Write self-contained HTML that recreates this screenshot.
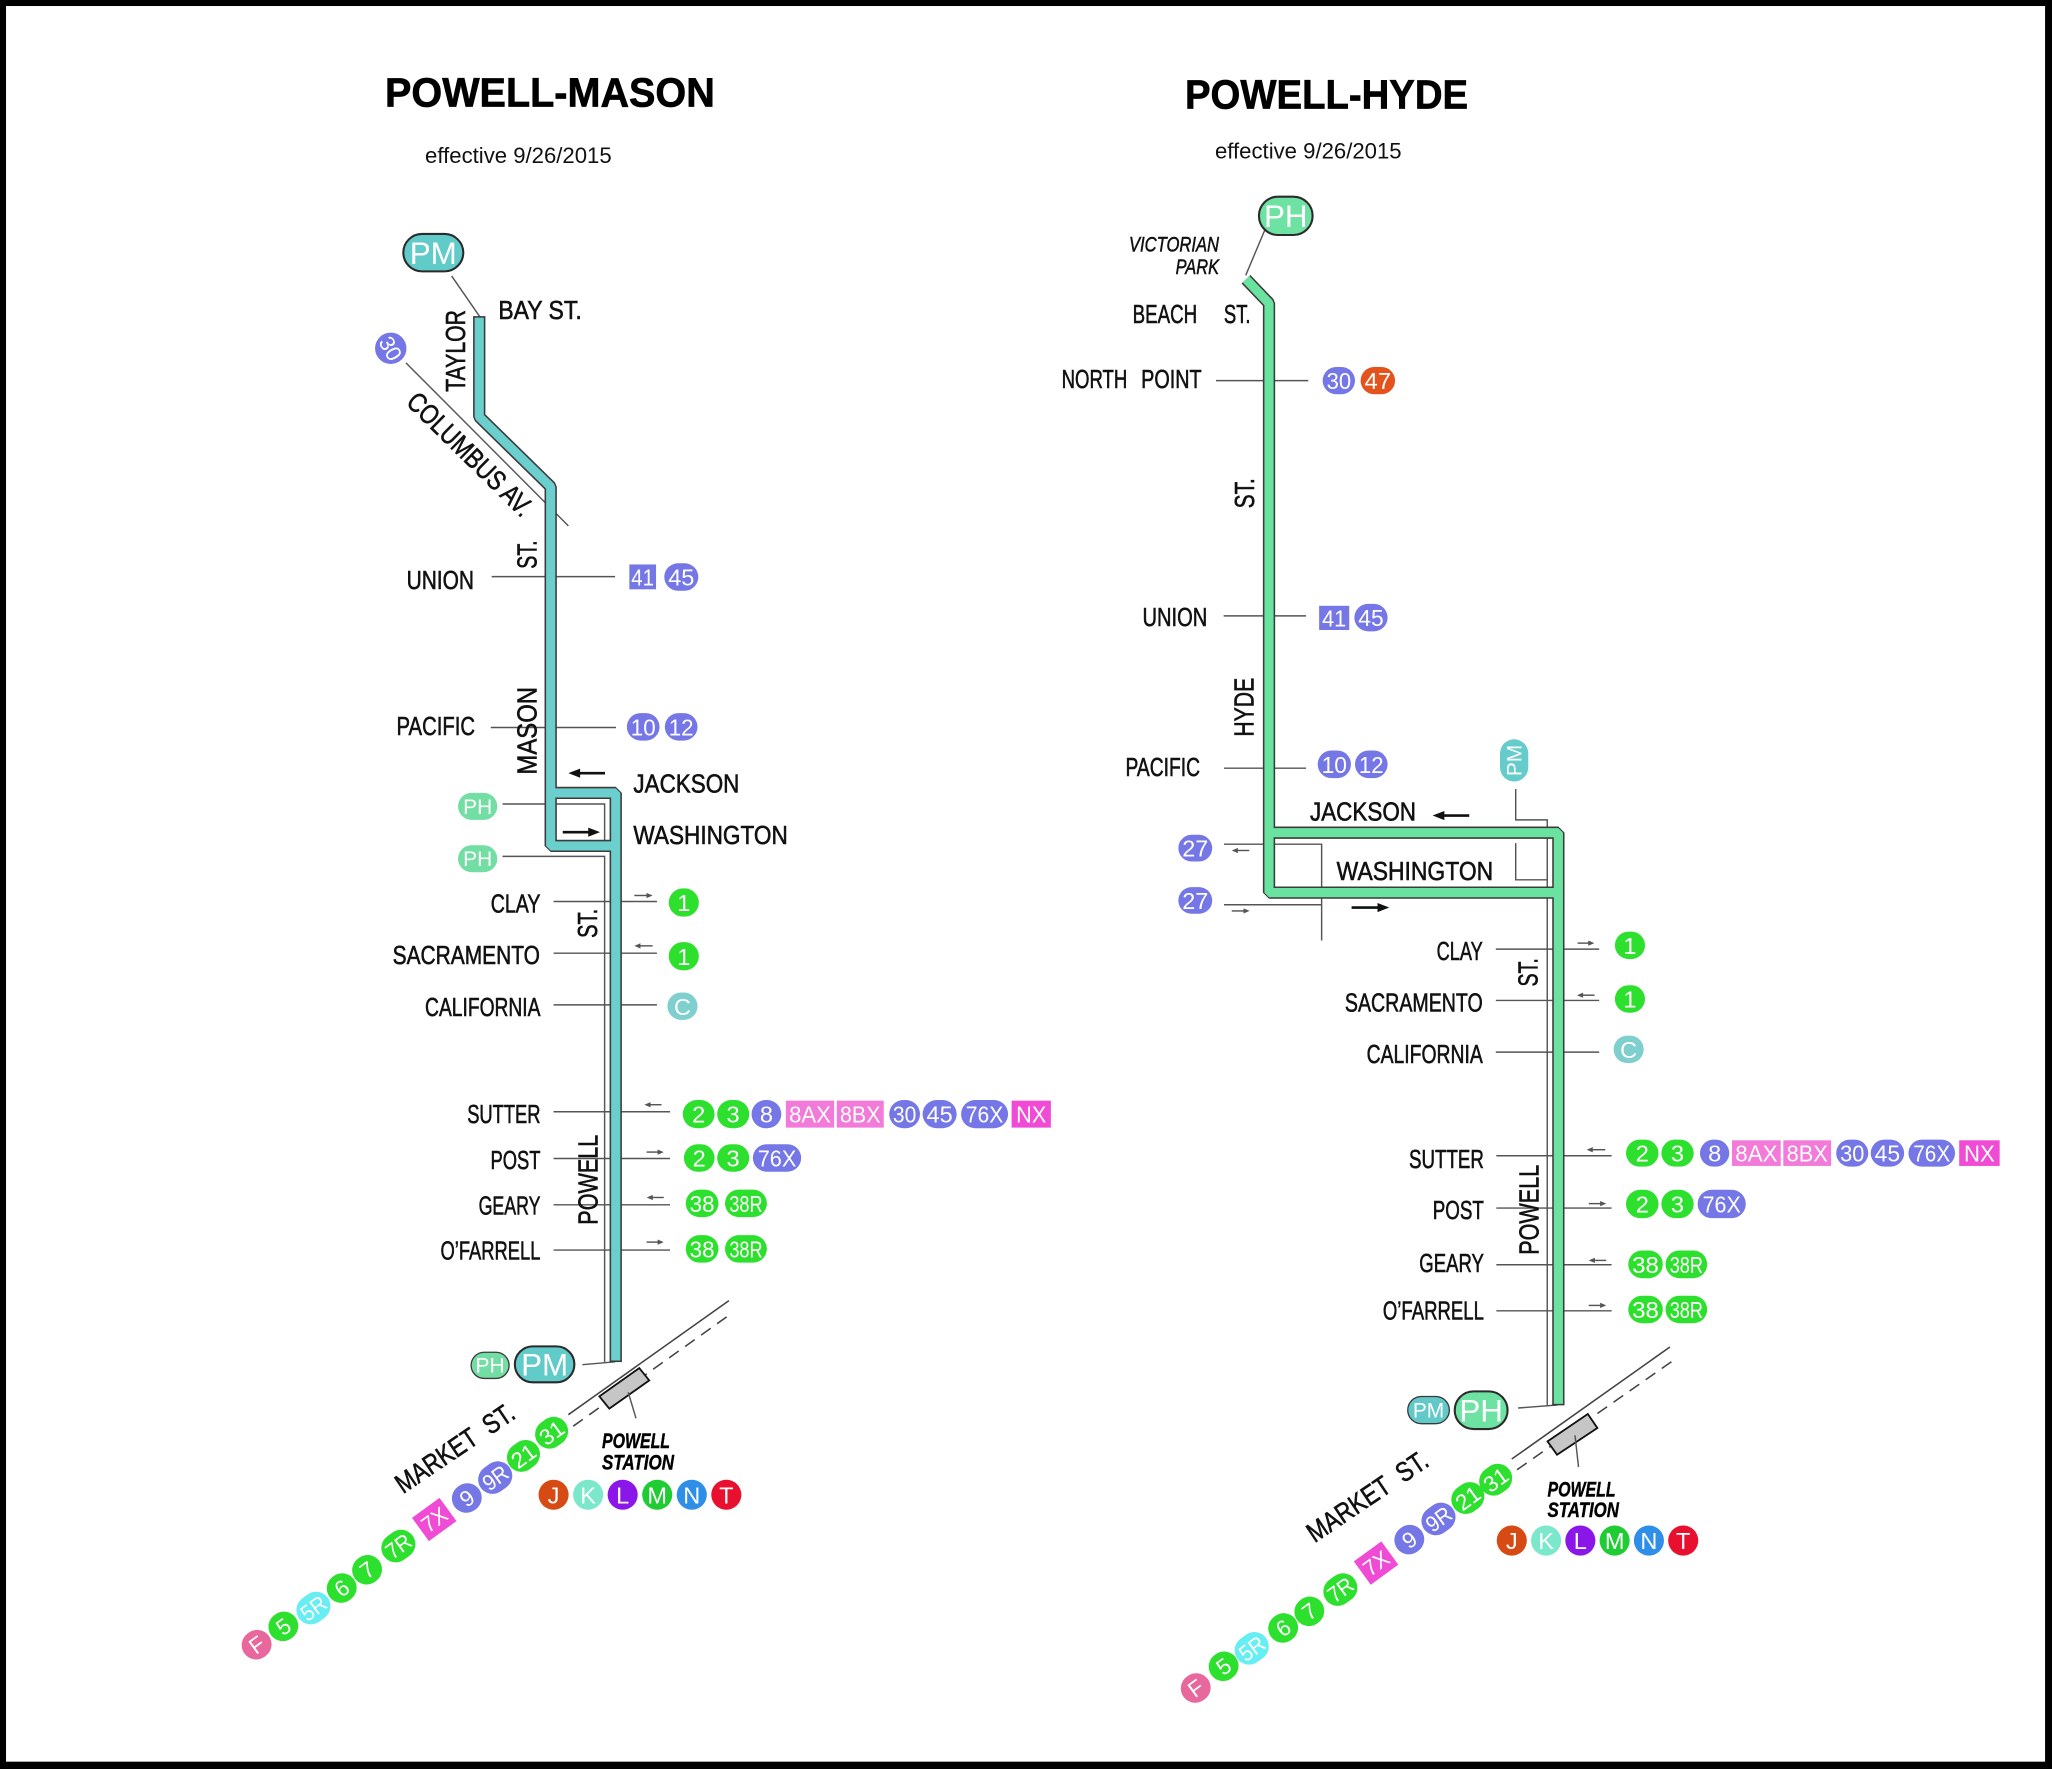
<!DOCTYPE html>
<html><head><meta charset="utf-8"><title>Powell-Mason / Powell-Hyde</title>
<style>
html,body{margin:0;padding:0;background:#000;}
svg{display:block}
.s{font-family:"Liberation Sans Narrow","Liberation Sans",sans-serif;font-size:20px;fill:#111;stroke:#111;stroke-width:0.45}
.r{font-family:"Liberation Sans Narrow","Liberation Sans",sans-serif;font-size:21px;fill:#111;stroke:#111;stroke-width:0.45}
.t{font-family:"Liberation Sans",sans-serif;font-weight:bold;font-size:31px;fill:#000;stroke:#000;stroke-width:0.5}
.e{font-family:"Liberation Sans",sans-serif;font-size:17px;fill:#111}
.b{font-family:"Liberation Sans",sans-serif;font-size:18px;fill:#fff;text-anchor:middle}
.bt{font-family:"Liberation Sans",sans-serif;font-size:18px;fill:#fff}
.bs{font-family:"Liberation Sans",sans-serif;font-size:16.5px;fill:#fff;text-anchor:middle}
.mk{font-family:"Liberation Sans",sans-serif;font-size:17px;fill:#fff;text-anchor:middle}
.mt{font-family:"Liberation Sans",sans-serif;font-size:17px;fill:#fff}
.big{font-family:"Liberation Sans",sans-serif;font-size:24px;fill:#fff;text-anchor:middle}
.sm{font-family:"Liberation Sans",sans-serif;font-size:16px;fill:#fff;text-anchor:middle}
.it{font-family:"Liberation Sans Narrow","Liberation Sans",sans-serif;font-style:italic;font-size:16px;fill:#111;stroke:#111;stroke-width:0.4}
.bi{font-family:"Liberation Sans Narrow","Liberation Sans",sans-serif;font-style:italic;font-weight:bold;font-size:16px;fill:#000;stroke:#000;stroke-width:0.3}
.g{stroke:#555;stroke-width:1.1;fill:none}
.ga{fill:#555}
.ba{stroke:#111;stroke-width:2;fill:none}
</style></head><body>
<svg width="2052" height="1769" viewBox="0 0 1568 1352" preserveAspectRatio="none" xmlns="http://www.w3.org/2000/svg">
<rect x="0" y="0" width="1568" height="1352" fill="#000"/>
<rect x="4.6" y="4.6" width="1558.1" height="1341.8" fill="#fff"/>

<!-- ===== TITLES ===== -->
<text class="t" x="294.2" y="81.3" textLength="252" lengthAdjust="spacingAndGlyphs">POWELL-MASON</text>
<text class="e" x="324.8" y="124.5" textLength="142.6" lengthAdjust="spacingAndGlyphs">effective 9/26/2015</text>
<text class="t" x="905.5" y="82.8" textLength="216.3" lengthAdjust="spacingAndGlyphs">POWELL-HYDE</text>
<text class="e" x="928.4" y="121" textLength="142.6" lengthAdjust="spacingAndGlyphs">effective 9/26/2015</text>

<!-- ===== GRAY LEADER LINES (LEFT) ===== -->
<g class="g">
<path d="M345.1,210.9 L366.8,242.3"/>
<path d="M310.2,277.3 L434.3,401.9"/>
<path d="M375.7,440.7 H470"/>
<path d="M375,556 H470.7"/>
<path d="M384,614.5 H462 V642"/>
<path d="M384,654.5 H462 V1041"/>
<path d="M423,689 H502"/>
<path d="M423,728.5 H502"/>
<path d="M423,768 H502"/>
<path d="M423,849.7 H512"/>
<path d="M423,885.4 H512"/>
<path d="M423,920.8 H512"/>
<path d="M423,955.4 H512"/>
<path d="M445,1043 L470,1040.8"/>
</g>
<path d="M434.3,1081.2 L557,994" stroke="#444" stroke-width="1.2" fill="none"/>
<path d="M438,1090 L558,1004.5" stroke="#444" stroke-width="1.2" fill="none" stroke-dasharray="9 6"/>

<!-- ===== GRAY LEADER LINES (RIGHT) ===== -->
<g class="g">
<path d="M966.6,175.5 L951.9,210.4"/>
<path d="M929.2,290.9 H999.7"/>
<path d="M935,470.7 H998"/>
<path d="M935.3,587.1 H998"/>
<path d="M935.3,645.2 H1009.9 V718.8"/>
<path d="M935.3,691.5 H1009.9"/>
<path d="M1158.2,603 V626.6 H1182.3 V1074"/>
<path d="M1158.2,644.4 V672.4 H1182.3"/>
<path d="M1143,725.4 H1222"/>
<path d="M1143,764.6 H1222"/>
<path d="M1143,804.1 H1222"/>
<path d="M1143.4,883.3 H1231.5"/>
<path d="M1143.4,923.3 H1231.5"/>
<path d="M1143.4,966.6 H1231.5"/>
<path d="M1143.4,1001.8 H1231.5"/>
<path d="M1160,1076.1 L1190,1073.8"/>
</g>
<path d="M1155.2,1115.1 L1276,1029.5" stroke="#444" stroke-width="1.2" fill="none"/>
<path d="M1159.2,1123.3 L1277.5,1040.5" stroke="#444" stroke-width="1.2" fill="none" stroke-dasharray="9 6"/>

<!-- ===== SMALL GRAY ARROWS ===== -->
<g>
<path class="g" d="M484.7,684.4 H496"/><polygon class="ga" points="498.7,684.4 494,682.4 494,686.4"/>
<path class="g" d="M487.5,722.9 H498.7"/><polygon class="ga" points="484.7,722.9 489.4,720.9 489.4,724.9"/>
<path class="g" d="M495.2,844.3 H505.5"/><polygon class="ga" points="492.4,844.3 497.1,842.3 497.1,846.3"/>
<path class="g" d="M494.1,880.5 H504.5"/><polygon class="ga" points="507.2,880.5 502.5,878.5 502.5,882.5"/>
<path class="g" d="M496.9,915.2 H507.2"/><polygon class="ga" points="494.1,915.2 498.8,913.2 498.8,917.2"/>
<path class="g" d="M494.1,949.3 H504.5"/><polygon class="ga" points="507.2,949.3 502.5,947.3 502.5,951.3"/>
<path class="g" d="M1205.5,720.8 H1215.6"/><polygon class="ga" points="1218.3,720.8 1213.6,718.8 1213.6,722.8"/>
<path class="g" d="M1207.8,760.6 H1218.5"/><polygon class="ga" points="1205,760.6 1209.7,758.6 1209.7,762.6"/>
<path class="g" d="M1215.2,878.7 H1226.6"/><polygon class="ga" points="1212.4,878.7 1217.1,876.7 1217.1,880.7"/>
<path class="g" d="M1214,919.9 H1224.7"/><polygon class="ga" points="1227.4,919.9 1222.7,917.9 1222.7,921.9"/>
<path class="g" d="M1216.8,963.3 H1227.4"/><polygon class="ga" points="1214,963.3 1218.7,961.3 1218.7,965.3"/>
<path class="g" d="M1214,997.7 H1224.7"/><polygon class="ga" points="1227.4,997.7 1222.7,995.7 1222.7,999.7"/>
<path class="g" d="M944,650 H954.6"/><polygon class="ga" points="941.2,650 945.9,648 945.9,652"/>
<path class="g" d="M941.2,696.2 H952.2"/><polygon class="ga" points="954.9,696.2 950.2,694.2 950.2,698.2"/>
</g>

<!-- ===== BANDS ===== -->
<g fill="none" stroke-linejoin="bevel">
<path d="M366.2,242.3 V318.6 L420.8,372 V606 H470.5 V1040.5" stroke="#3c3c3c" stroke-width="9.4"/>
<path d="M420.8,606 V646.5 H470.5" stroke="#3c3c3c" stroke-width="9.4"/>
<path d="M366.2,242.3 V318.6 L420.8,372 V606 H470.5 V1040.5" stroke="#6acfcd" stroke-width="7"/>
<path d="M420.8,606 V646.5 H470.5" stroke="#6acfcd" stroke-width="7"/>

<path d="M952.1,213.4 L969.7,231.8 V636.4 H1190.8 V1073.6" stroke="#3c3c3c" stroke-width="9.4"/>
<path d="M969.7,636.4 V682.2 H1190.8" stroke="#3c3c3c" stroke-width="9.4"/>
<path d="M952.1,213.4 L969.7,231.8 V636.4 H1190.8 V1073.6" stroke="#6ae3a0" stroke-width="7"/>
<path d="M969.7,636.4 V682.2 H1190.8" stroke="#6ae3a0" stroke-width="7"/>
</g>
<rect x="361.5" y="241.6" width="9.4" height="1.2" fill="#3c3c3c"/>
<rect x="465.8" y="1039.8" width="9.4" height="1.2" fill="#3c3c3c"/>
<rect x="1186.1" y="1072.9" width="9.4" height="1.2" fill="#3c3c3c"/>

<!-- ===== BLACK DIRECTION ARROWS ===== -->
<path class="ba" d="M441,590.9 H462.3"/><polygon fill="#111" points="434.3,590.9 443.3,587.4 443.3,594.4"/>
<path class="ba" d="M430,636 H451.5"/><polygon fill="#111" points="458.5,636 449.5,632.5 449.5,639.5"/>
<path class="ba" d="M1101.7,623.3 H1122.7"/><polygon fill="#111" points="1094.7,623.3 1103.7,619.8 1103.7,626.8"/>
<path class="ba" d="M1032.8,693.6 H1054.6"/><polygon fill="#111" points="1061.6,693.6 1052.6,690.1 1052.6,697.1"/>

<!-- ===== STATIONS ===== -->
<polygon points="458,1067.2 488.5,1045.6 496.1,1055 465.6,1076.6" fill="#c6c6c6" stroke="#111" stroke-width="1.4"/>
<path class="g" d="M480,1064 L486,1084"/>
<polygon points="1182.5,1101.6 1213.3,1080.7 1220.6,1091.4 1189.8,1111.8" fill="#c6c6c6" stroke="#111" stroke-width="1.4"/>
<path class="g" d="M1203.5,1097 L1206.2,1121.2"/>

<!-- ===== LEFT STREET LABELS ===== -->
<g class="s">
<text x="380.8" y="243.8" textLength="63.7" lengthAdjust="spacingAndGlyphs">BAY ST.</text>
<text x="310.7" y="450.3" textLength="51.5" lengthAdjust="spacingAndGlyphs">UNION</text>
<text x="303" y="561.6" textLength="60" lengthAdjust="spacingAndGlyphs">PACIFIC</text>
<text x="484" y="605.7" textLength="81" lengthAdjust="spacingAndGlyphs">JACKSON</text>
<text x="484" y="645" textLength="118" lengthAdjust="spacingAndGlyphs">WASHINGTON</text>
<text x="375" y="697.4" textLength="38" lengthAdjust="spacingAndGlyphs">CLAY</text>
<text x="300" y="736.6" textLength="112.6" lengthAdjust="spacingAndGlyphs">SACRAMENTO</text>
<text x="324.8" y="776.4" textLength="88.2" lengthAdjust="spacingAndGlyphs">CALIFORNIA</text>
<text x="357" y="858.3" textLength="56" lengthAdjust="spacingAndGlyphs">SUTTER</text>
<text x="374.8" y="893.3" textLength="38.2" lengthAdjust="spacingAndGlyphs">POST</text>
<text x="365.7" y="928.4" textLength="47.3" lengthAdjust="spacingAndGlyphs">GEARY</text>
<text x="336.6" y="962.8" textLength="76.4" lengthAdjust="spacingAndGlyphs">O’FARRELL</text>
</g>
<g class="r">
<text transform="translate(355.3,299.5) rotate(-90)" textLength="62.6" lengthAdjust="spacingAndGlyphs">TAYLOR</text>
<text transform="translate(410,434.7) rotate(-90)" textLength="21.7" lengthAdjust="spacingAndGlyphs">ST.</text>
<text transform="translate(410,592) rotate(-90)" textLength="67" lengthAdjust="spacingAndGlyphs">MASON</text>
<text transform="translate(456,716.8) rotate(-90)" textLength="22.2" lengthAdjust="spacingAndGlyphs">ST.</text>
<text transform="translate(456.5,936) rotate(-90)" textLength="68.7" lengthAdjust="spacingAndGlyphs">POWELL</text>
<text transform="translate(309.5,308.5) rotate(44.5)" textLength="125" lengthAdjust="spacingAndGlyphs">COLUMBUS AV.</text>
<text transform="translate(308,1142) rotate(-34)" textLength="105" lengthAdjust="spacingAndGlyphs">MARKET&#160; ST.</text>
</g>
<text class="bi" x="460" y="1106.6" textLength="52" lengthAdjust="spacingAndGlyphs">POWELL</text>
<text class="bi" x="460" y="1123.2" textLength="55" lengthAdjust="spacingAndGlyphs">STATION</text>

<!-- ===== RIGHT STREET LABELS ===== -->
<g class="s">
<text x="865.5" y="247" textLength="49.3" lengthAdjust="spacingAndGlyphs">BEACH</text>
<text x="935.2" y="247" textLength="20.4" lengthAdjust="spacingAndGlyphs">ST.</text>
<text x="811.2" y="296.7" textLength="50.2" lengthAdjust="spacingAndGlyphs">NORTH</text>
<text x="872" y="296.7" textLength="46.2" lengthAdjust="spacingAndGlyphs">POINT</text>
<text x="873" y="478.3" textLength="49.5" lengthAdjust="spacingAndGlyphs">UNION</text>
<text x="860" y="593" textLength="57" lengthAdjust="spacingAndGlyphs">PACIFIC</text>
<text x="1001" y="627.1" textLength="81" lengthAdjust="spacingAndGlyphs">JACKSON</text>
<text x="1021.4" y="672.4" textLength="119.6" lengthAdjust="spacingAndGlyphs">WASHINGTON</text>
<text x="1097.8" y="733.6" textLength="35.2" lengthAdjust="spacingAndGlyphs">CLAY</text>
<text x="1027.7" y="773" textLength="105.3" lengthAdjust="spacingAndGlyphs">SACRAMENTO</text>
<text x="1044.3" y="812.5" textLength="88.7" lengthAdjust="spacingAndGlyphs">CALIFORNIA</text>
<text x="1076.7" y="892.8" textLength="57.2" lengthAdjust="spacingAndGlyphs">SUTTER</text>
<text x="1094.8" y="931.7" textLength="39.1" lengthAdjust="spacingAndGlyphs">POST</text>
<text x="1084.5" y="972.2" textLength="49.4" lengthAdjust="spacingAndGlyphs">GEARY</text>
<text x="1056.7" y="1008.6" textLength="77.2" lengthAdjust="spacingAndGlyphs">O’FARRELL</text>
</g>
<g class="r">
<text transform="translate(958.2,388.4) rotate(-90)" textLength="22.9" lengthAdjust="spacingAndGlyphs">ST.</text>
<text transform="translate(958,563) rotate(-90)" textLength="45" lengthAdjust="spacingAndGlyphs">HYDE</text>
<text transform="translate(1174.7,754) rotate(-90)" textLength="21.7" lengthAdjust="spacingAndGlyphs">ST.</text>
<text transform="translate(1175.8,959) rotate(-90)" textLength="68.8" lengthAdjust="spacingAndGlyphs">POWELL</text>
<text transform="translate(1004.5,1179.5) rotate(-34)" textLength="107" lengthAdjust="spacingAndGlyphs">MARKET&#160; ST.</text>
</g>
<text class="it" x="862.7" y="192.3" textLength="68.8" lengthAdjust="spacingAndGlyphs">VICTORIAN</text>
<text class="it" x="898.3" y="209.4" textLength="33.2" lengthAdjust="spacingAndGlyphs">PARK</text>
<text class="bi" x="1182.5" y="1143.7" textLength="52" lengthAdjust="spacingAndGlyphs">POWELL</text>
<text class="bi" x="1182.5" y="1159.4" textLength="54.6" lengthAdjust="spacingAndGlyphs">STATION</text>

<!-- ===== LINE BADGES (PM / PH) ===== -->
<rect x="308.2" y="178.8" width="45.8" height="28.6" rx="14.3" fill="#61cbc9" stroke="#2b2b2b" stroke-width="1.6"/>
<text class="big" x="331.1" y="201.8">PM</text>
<rect x="350" y="606" width="30" height="20.6" rx="10.3" fill="#72dea4"/>
<text class="sm" x="365" y="622">PH</text>
<rect x="350" y="646" width="30" height="20.6" rx="10.3" fill="#72dea4"/>
<text class="sm" x="365" y="662">PH</text>
<rect x="360" y="1033.5" width="29" height="20" rx="10" fill="#72dea4" stroke="#3a3a3a" stroke-width="1"/>
<text class="sm" x="374.5" y="1049.1">PH</text>
<rect x="393.4" y="1029" width="45.5" height="27.5" rx="13.75" fill="#61cbc9" stroke="#2b2b2b" stroke-width="1.6"/>
<text class="big" x="416.2" y="1051.4">PM</text>

<rect x="962" y="150.3" width="41" height="29.3" rx="14.6" fill="#6de2a2" stroke="#2b2b2b" stroke-width="1.6"/>
<text class="big" x="982.5" y="173.6">PH</text>
<rect x="1146.2" y="565" width="21.6" height="32.3" rx="10.8" fill="#66cccb"/>
<text class="sm" transform="translate(1162.8,581.2) rotate(-90)" x="0" y="0">PM</text>
<rect x="1075.7" y="1067.3" width="31.8" height="20.8" rx="10.4" fill="#61c9c8" stroke="#3a3a3a" stroke-width="1"/>
<text class="sm" x="1091.6" y="1083.3">PM</text>
<rect x="1111.6" y="1063.4" width="40.4" height="28.8" rx="14.4" fill="#6de2a2" stroke="#2b2b2b" stroke-width="1.6"/>
<text class="big" x="1131.8" y="1086.5">PH</text>

<!-- ===== LEFT BUS BADGES ===== -->
<circle cx="298.6" cy="266.2" r="12" fill="#7577e6"/>
<text class="bs" transform="translate(298.6,266.2) rotate(60)" x="0" y="6">30</text>

<rect x="480.9" y="431.4" width="20.4" height="19" fill="#7577e6"/><text class="bt" x="482.4" y="447.4" textLength="17.4" lengthAdjust="spacingAndGlyphs">41</text>
<rect x="507.6" y="430.5" width="26" height="21" rx="10.5" fill="#7577e6"/><text class="bt" x="510.6" y="447.4" textLength="20" lengthAdjust="spacingAndGlyphs">45</text>

<rect x="479" y="545" width="25" height="21" rx="10.5" fill="#7577e6"/><text class="bt" x="482" y="562" textLength="19" lengthAdjust="spacingAndGlyphs">10</text>
<rect x="508" y="545" width="25" height="21" rx="10.5" fill="#7577e6"/><text class="bt" x="511" y="562" textLength="19" lengthAdjust="spacingAndGlyphs">12</text>

<rect x="511" y="679" width="23" height="21.6" rx="10.8" fill="#2ee02e"/><text class="b" x="522.5" y="696.4">1</text>
<rect x="511" y="720" width="23" height="21.6" rx="10.8" fill="#2ee02e"/><text class="b" x="522.5" y="737.4">1</text>
<rect x="510" y="758.5" width="23" height="21" rx="10.5" fill="#7fcfce"/><text class="b" x="521.5" y="775.6">C</text>

<!-- Sutter -->
<rect x="521.7" y="840.7" width="24.3" height="21.6" rx="10.8" fill="#2ee02e"/><text class="b" x="533.9" y="858">2</text>
<rect x="548" y="840.7" width="24.5" height="21.6" rx="10.8" fill="#2ee02e"/><text class="b" x="560.2" y="858">3</text>
<rect x="574.3" y="840.7" width="22.7" height="21.6" rx="10.8" fill="#7577e6"/><text class="b" x="585.7" y="858">8</text>
<rect x="600.5" y="841.2" width="36.9" height="20.6" fill="#f27ad8"/><text class="bt" x="603" y="858" textLength="31.9" lengthAdjust="spacingAndGlyphs">8AX</text>
<rect x="639.4" y="841.2" width="35.9" height="20.6" fill="#f27ad8"/><text class="bt" x="641.9" y="858" textLength="30.9" lengthAdjust="spacingAndGlyphs">8BX</text>
<rect x="679.5" y="840.7" width="23.5" height="21.6" rx="10.8" fill="#7577e6"/><text class="bt" x="682.3" y="858" textLength="17.9" lengthAdjust="spacingAndGlyphs">30</text>
<rect x="705" y="840.7" width="26" height="21.6" rx="10.8" fill="#7577e6"/><text class="bt" x="708" y="858" textLength="20" lengthAdjust="spacingAndGlyphs">45</text>
<rect x="734.4" y="840.7" width="35.9" height="21.6" rx="10.8" fill="#7577e6"/><text class="bt" x="738" y="858" textLength="28.7" lengthAdjust="spacingAndGlyphs">76X</text>
<rect x="773" y="841.2" width="30" height="20.6" fill="#ef4bd4"/><text class="bt" x="776.5" y="858" textLength="23" lengthAdjust="spacingAndGlyphs">NX</text>
<!-- Post -->
<rect x="522.6" y="874.5" width="23.4" height="21" rx="10.5" fill="#2ee02e"/><text class="b" x="534.3" y="891.5">2</text>
<rect x="548" y="874.5" width="24.5" height="21" rx="10.5" fill="#2ee02e"/><text class="b" x="560.2" y="891.5">3</text>
<rect x="575.3" y="874.5" width="36.9" height="21" rx="10.5" fill="#7577e6"/><text class="bt" x="579" y="891.5" textLength="29.5" lengthAdjust="spacingAndGlyphs">76X</text>
<!-- Geary -->
<rect x="524" y="909.2" width="25" height="21" rx="10.5" fill="#2ee02e"/><text class="bt" x="527" y="926.2" textLength="19" lengthAdjust="spacingAndGlyphs">38</text>
<rect x="554" y="909.2" width="32" height="21" rx="10.5" fill="#2ee02e"/><text class="bt" x="557.3" y="926.2" textLength="25.4" lengthAdjust="spacingAndGlyphs">38R</text>
<!-- O'Farrell -->
<rect x="524" y="944" width="25" height="21" rx="10.5" fill="#2ee02e"/><text class="bt" x="527" y="961" textLength="19" lengthAdjust="spacingAndGlyphs">38</text>
<rect x="554" y="944" width="32" height="21" rx="10.5" fill="#2ee02e"/><text class="bt" x="557.3" y="961" textLength="25.4" lengthAdjust="spacingAndGlyphs">38R</text>

<!-- ===== RIGHT BUS BADGES ===== -->
<rect x="1010.7" y="280.5" width="24.7" height="20.8" rx="10.4" fill="#7577e6"/><text class="bt" x="1013.7" y="297.4" textLength="18.7" lengthAdjust="spacingAndGlyphs">30</text>
<rect x="1039.7" y="280.5" width="26.3" height="20.8" rx="10.4" fill="#e4531c"/><text class="bt" x="1042.7" y="297.4" textLength="20.3" lengthAdjust="spacingAndGlyphs">47</text>

<rect x="1008" y="463" width="23" height="18.5" fill="#7577e6"/><text class="bt" x="1010.3" y="478.7" textLength="18.4" lengthAdjust="spacingAndGlyphs">41</text>
<rect x="1034.9" y="461.5" width="25.4" height="21" rx="10.5" fill="#7577e6"/><text class="bt" x="1037.9" y="478.5" textLength="19.4" lengthAdjust="spacingAndGlyphs">45</text>

<rect x="1006.9" y="573.6" width="25.4" height="21.1" rx="10.5" fill="#7577e6"/><text class="bt" x="1009.9" y="590.7" textLength="19.4" lengthAdjust="spacingAndGlyphs">10</text>
<rect x="1035.4" y="573.6" width="24.9" height="21.1" rx="10.5" fill="#7577e6"/><text class="bt" x="1038.4" y="590.7" textLength="18.9" lengthAdjust="spacingAndGlyphs">12</text>

<rect x="900.4" y="638" width="25.9" height="20.4" rx="10.2" fill="#7577e6"/><text class="bt" x="903.4" y="654.7" textLength="19.9" lengthAdjust="spacingAndGlyphs">27</text>
<rect x="900.4" y="678" width="25.9" height="20.4" rx="10.2" fill="#7577e6"/><text class="bt" x="903.4" y="694.7" textLength="19.9" lengthAdjust="spacingAndGlyphs">27</text>

<rect x="1234" y="712" width="23" height="21" rx="10.5" fill="#2ee02e"/><text class="b" x="1245.5" y="729">1</text>
<rect x="1234" y="753" width="23" height="21" rx="10.5" fill="#2ee02e"/><text class="b" x="1245.5" y="770">1</text>
<rect x="1233" y="791.5" width="23" height="21" rx="10.5" fill="#7fcfce"/><text class="b" x="1244.5" y="808.5">C</text>

<!-- Sutter -->
<rect x="1242.5" y="871" width="24.8" height="20.6" rx="10.3" fill="#2ee02e"/><text class="b" x="1254.9" y="887.8">2</text>
<rect x="1269.5" y="871" width="24.7" height="20.6" rx="10.3" fill="#2ee02e"/><text class="b" x="1281.8" y="887.8">3</text>
<rect x="1299" y="871" width="22.4" height="20.6" rx="10.3" fill="#7577e6"/><text class="b" x="1310.2" y="887.8">8</text>
<rect x="1323.5" y="871.5" width="37.2" height="19.6" fill="#f27ad8"/><text class="bt" x="1326" y="887.8" textLength="32.2" lengthAdjust="spacingAndGlyphs">8AX</text>
<rect x="1362.7" y="871.5" width="36.5" height="19.6" fill="#f27ad8"/><text class="bt" x="1365.2" y="887.8" textLength="31.5" lengthAdjust="spacingAndGlyphs">8BX</text>
<rect x="1403.1" y="871" width="24.5" height="20.6" rx="10.3" fill="#7577e6"/><text class="bt" x="1406.1" y="887.8" textLength="18.5" lengthAdjust="spacingAndGlyphs">30</text>
<rect x="1429.5" y="871" width="25.5" height="20.6" rx="10.3" fill="#7577e6"/><text class="bt" x="1432.5" y="887.8" textLength="19.5" lengthAdjust="spacingAndGlyphs">45</text>
<rect x="1458.3" y="871" width="35.6" height="20.6" rx="10.3" fill="#7577e6"/><text class="bt" x="1462" y="887.8" textLength="28.2" lengthAdjust="spacingAndGlyphs">76X</text>
<rect x="1497.1" y="871.5" width="30.9" height="19.6" fill="#ef4bd4"/><text class="bt" x="1500.8" y="887.8" textLength="23.5" lengthAdjust="spacingAndGlyphs">NX</text>
<!-- Post -->
<rect x="1242.5" y="909.3" width="24.8" height="21.7" rx="10.8" fill="#2ee02e"/><text class="b" x="1254.9" y="926.7">2</text>
<rect x="1269.5" y="909.3" width="24.7" height="21.7" rx="10.8" fill="#2ee02e"/><text class="b" x="1281.8" y="926.7">3</text>
<rect x="1297.2" y="909.3" width="36.8" height="21.7" rx="10.8" fill="#7577e6"/><text class="bt" x="1301" y="926.7" textLength="29.2" lengthAdjust="spacingAndGlyphs">76X</text>
<!-- Geary -->
<rect x="1244.2" y="955.7" width="26.4" height="21.2" rx="10.6" fill="#2ee02e"/><text class="bt" x="1247.2" y="972.8" textLength="20.4" lengthAdjust="spacingAndGlyphs">38</text>
<rect x="1272.7" y="955.7" width="31.8" height="21.2" rx="10.6" fill="#2ee02e"/><text class="bt" x="1275.9" y="972.8" textLength="25.4" lengthAdjust="spacingAndGlyphs">38R</text>
<!-- O'Farrell -->
<rect x="1244.2" y="990.3" width="26.4" height="21" rx="10.5" fill="#2ee02e"/><text class="bt" x="1247.2" y="1007.3" textLength="20.4" lengthAdjust="spacingAndGlyphs">38</text>
<rect x="1272.7" y="990.3" width="31.8" height="21" rx="10.5" fill="#2ee02e"/><text class="bt" x="1275.9" y="1007.3" textLength="25.4" lengthAdjust="spacingAndGlyphs">38R</text>

<!-- ===== MARKET ST BADGES LEFT ===== -->
<g transform="translate(196.1,1257) rotate(-36)"><rect x="-11.5" y="-11" width="23" height="22" rx="11" fill="#e8679c"/><text class="mk" x="0" y="6.1">F</text></g>
<g transform="translate(216.5,1243) rotate(-36)"><rect x="-11.5" y="-11" width="23" height="22" rx="11" fill="#2ee02e"/><text class="mk" x="0" y="6.1">5</text></g>
<g transform="translate(239.5,1229) rotate(-36)"><rect x="-13.5" y="-11" width="27" height="22" rx="11" fill="#66eef2"/><text class="mt" x="-10" y="6.1" textLength="20" lengthAdjust="spacingAndGlyphs">5R</text></g>
<g transform="translate(261.1,1213.7) rotate(-36)"><rect x="-11.5" y="-11" width="23" height="22" rx="11" fill="#2ee02e"/><text class="mk" x="0" y="6.1">6</text></g>
<g transform="translate(280.5,1199.7) rotate(-36)"><rect x="-11.5" y="-11" width="23" height="22" rx="11" fill="#2ee02e"/><text class="mk" x="0" y="6.1">7</text></g>
<g transform="translate(304.4,1181.6) rotate(-36)"><rect x="-13.5" y="-11" width="27" height="22" rx="11" fill="#2ee02e"/><text class="mt" x="-10" y="6.1" textLength="20" lengthAdjust="spacingAndGlyphs">7R</text></g>
<g transform="translate(331.8,1161.3) rotate(-36)"><rect x="-13" y="-11" width="26" height="22" fill="#ef4bd4"/><text class="mt" x="-10" y="6.1" textLength="20" lengthAdjust="spacingAndGlyphs">7X</text></g>
<g transform="translate(356.7,1144.9) rotate(-36)"><rect x="-11.5" y="-11" width="23" height="22" rx="11" fill="#7577e6"/><text class="mk" x="0" y="6.1">9</text></g>
<g transform="translate(378.4,1129.3) rotate(-36)"><rect x="-13.5" y="-11" width="27" height="22" rx="11" fill="#7577e6"/><text class="mt" x="-10" y="6.1" textLength="20" lengthAdjust="spacingAndGlyphs">9R</text></g>
<g transform="translate(400,1112.7) rotate(-36)"><rect x="-13" y="-11" width="26" height="22" rx="11" fill="#2ee02e"/><text class="mt" x="-9.5" y="6.1" textLength="19" lengthAdjust="spacingAndGlyphs">21</text></g>
<g transform="translate(421.5,1095) rotate(-36)"><rect x="-13" y="-11" width="26" height="22" rx="11" fill="#2ee02e"/><text class="mt" x="-9.5" y="6.1" textLength="19" lengthAdjust="spacingAndGlyphs">31</text></g>

<!-- ===== MARKET ST BADGES RIGHT ===== -->
<g transform="translate(913.7,1290.1) rotate(-36)"><rect x="-11.5" y="-11" width="23" height="22" rx="11" fill="#e8679c"/><text class="mk" x="0" y="6.1">F</text></g>
<g transform="translate(935,1273.5) rotate(-36)"><rect x="-11.5" y="-11" width="23" height="22" rx="11" fill="#2ee02e"/><text class="mk" x="0" y="6.1">5</text></g>
<g transform="translate(956.5,1259.8) rotate(-36)"><rect x="-13.5" y="-11" width="27" height="22" rx="11" fill="#66eef2"/><text class="mt" x="-10" y="6.1" textLength="20" lengthAdjust="spacingAndGlyphs">5R</text></g>
<g transform="translate(980.5,1244.2) rotate(-36)"><rect x="-11.5" y="-11" width="23" height="22" rx="11" fill="#2ee02e"/><text class="mk" x="0" y="6.1">6</text></g>
<g transform="translate(1000.5,1231.5) rotate(-36)"><rect x="-11.5" y="-11" width="23" height="22" rx="11" fill="#2ee02e"/><text class="mk" x="0" y="6.1">7</text></g>
<g transform="translate(1024.2,1214.9) rotate(-36)"><rect x="-13.5" y="-11" width="27" height="22" rx="11" fill="#2ee02e"/><text class="mt" x="-10" y="6.1" textLength="20" lengthAdjust="spacingAndGlyphs">7R</text></g>
<g transform="translate(1051.5,1194.6) rotate(-36)"><rect x="-13" y="-11" width="26" height="22" fill="#ef4bd4"/><text class="mt" x="-10" y="6.1" textLength="20" lengthAdjust="spacingAndGlyphs">7X</text></g>
<g transform="translate(1076.9,1176.7) rotate(-36)"><rect x="-11.5" y="-11" width="23" height="22" rx="11" fill="#7577e6"/><text class="mk" x="0" y="6.1">9</text></g>
<g transform="translate(1099.2,1160.9) rotate(-36)"><rect x="-13.5" y="-11" width="27" height="22" rx="11" fill="#7577e6"/><text class="mt" x="-10" y="6.1" textLength="20" lengthAdjust="spacingAndGlyphs">9R</text></g>
<g transform="translate(1121.6,1144.9) rotate(-36)"><rect x="-13" y="-11" width="26" height="22" rx="11" fill="#2ee02e"/><text class="mt" x="-9.5" y="6.1" textLength="19" lengthAdjust="spacingAndGlyphs">21</text></g>
<g transform="translate(1142.9,1130.9) rotate(-36)"><rect x="-13" y="-11" width="26" height="22" rx="11" fill="#2ee02e"/><text class="mt" x="-9.5" y="6.1" textLength="19" lengthAdjust="spacingAndGlyphs">31</text></g>

<!-- ===== MUNI METRO (LEFT) ===== -->
<circle cx="423" cy="1142.4" r="11.5" fill="#d64a14"/><text class="b" x="423" y="1149" style="font-size:18px">J</text>
<circle cx="449.4" cy="1142.4" r="11.5" fill="#7be8cc"/><text class="b" x="449.4" y="1149" style="font-size:18px">K</text>
<circle cx="475.8" cy="1142.4" r="11.5" fill="#8b16e8"/><text class="b" x="475.8" y="1149" style="font-size:18px">L</text>
<circle cx="502.2" cy="1142.4" r="11.5" fill="#20cc33"/><text class="b" x="502.2" y="1149" style="font-size:18px">M</text>
<circle cx="528.6" cy="1142.4" r="11.5" fill="#2f8fe8"/><text class="b" x="528.6" y="1149" style="font-size:18px">N</text>
<circle cx="555" cy="1142.4" r="11.5" fill="#e8102e"/><text class="b" x="555" y="1149" style="font-size:18px">T</text>

<!-- ===== MUNI METRO (RIGHT) ===== -->
<circle cx="1155.2" cy="1177.4" r="11.5" fill="#d64a14"/><text class="b" x="1155.2" y="1184" style="font-size:18px">J</text>
<circle cx="1181.4" cy="1177.4" r="11.5" fill="#7be8cc"/><text class="b" x="1181.4" y="1184" style="font-size:18px">K</text>
<circle cx="1207.6" cy="1177.4" r="11.5" fill="#8b16e8"/><text class="b" x="1207.6" y="1184" style="font-size:18px">L</text>
<circle cx="1233.8" cy="1177.4" r="11.5" fill="#20cc33"/><text class="b" x="1233.8" y="1184" style="font-size:18px">M</text>
<circle cx="1260" cy="1177.4" r="11.5" fill="#2f8fe8"/><text class="b" x="1260" y="1184" style="font-size:18px">N</text>
<circle cx="1286.2" cy="1177.4" r="11.5" fill="#e8102e"/><text class="b" x="1286.2" y="1184" style="font-size:18px">T</text>

</svg>
</body></html>
